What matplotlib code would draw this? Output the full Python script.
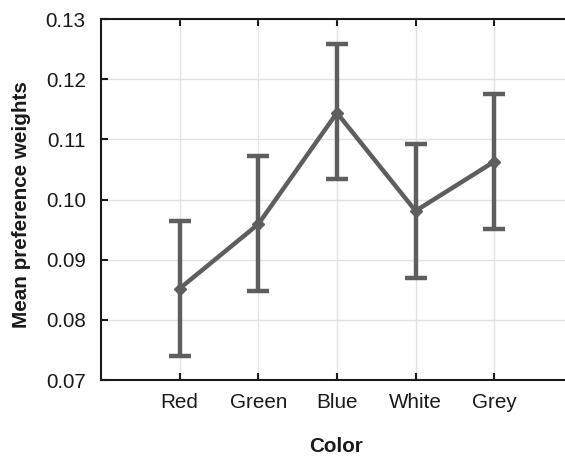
import matplotlib
matplotlib.use('Agg')
import matplotlib.pyplot as plt

plt.rcParams['font.family'] = ['Liberation Sans', 'DejaVu Sans']

colors = ['Red', 'Green', 'Blue', 'White', 'Grey']
means = [0.0852, 0.0959, 0.1144, 0.0981, 0.1063]
lower = [0.0740, 0.0848, 0.1034, 0.0870, 0.0951]
upper = [0.0964, 0.1072, 0.1258, 0.1093, 0.1175]

x = list(range(1, len(colors) + 1))
err = [[m - lo for m, lo in zip(means, lower)],
       [hi - m for m, hi in zip(means, upper)]]

fig = plt.figure(figsize=(5.65, 4.57), dpi=100)
ax = fig.add_axes([101 / 565, 77 / 457, 464 / 565, 361 / 457])

line_col = '#5e5e5e'
ax.errorbar(x, means, yerr=err, color=line_col, linewidth=3.2, elinewidth=3.2,
            capsize=8, capthick=3.2, marker='D', markersize=6.5, zorder=3)

ax.set_xlim(0, 5.9)
ax.set_ylim(0.07, 0.13)
ax.set_xticks(x)
ax.set_xticklabels(colors)
ax.set_yticks([0.07, 0.08, 0.09, 0.10, 0.11, 0.12, 0.13])
ax.set_yticklabels(['0.07', '0.08', '0.09', '0.10', '0.11', '0.12', '0.13'])

ax.grid(True, color='#e2e2e2', linewidth=1, zorder=0)
ax.set_axisbelow(True)

for side in ['left', 'bottom', 'top']:
    ax.spines[side].set_linewidth(1.5)
    ax.spines[side].set_color('#1a1a1a')
ax.spines['right'].set_visible(False)

ax.tick_params(axis='both', direction='in', length=5, width=1.5,
               labelsize=14.9, colors='#1a1a1a', labelcolor='#1a1a1a')
ax.tick_params(axis='x', top=True, pad=9)
ax.tick_params(axis='y', pad=11)

ax.set_ylabel('Mean preference weights', fontsize=14.9, fontweight='bold',
              color='#1a1a1a')
ax.set_xlabel('Color', fontsize=14.9, fontweight='bold', color='#1a1a1a')
ax.yaxis.set_label_coords(-0.15, 0.485)
ax.xaxis.set_label_coords(0.507, -0.157)

fig.savefig('out.png', dpi=100)
